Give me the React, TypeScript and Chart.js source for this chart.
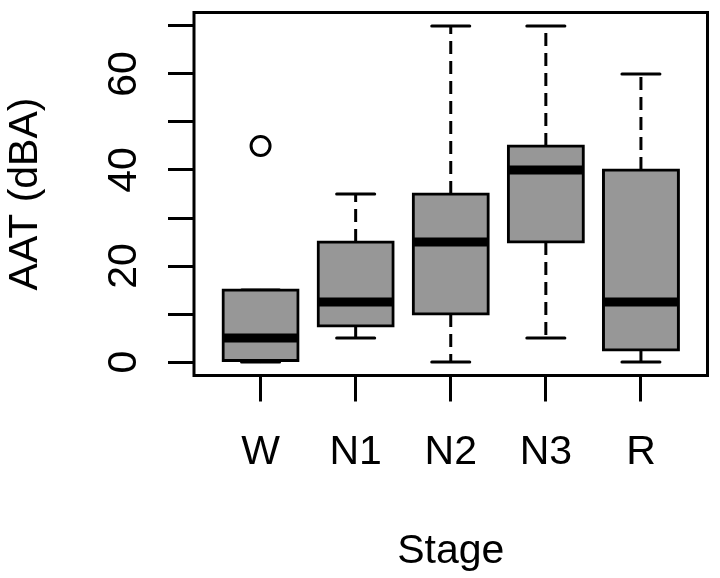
import { useEffect, useRef } from 'react';
import { Chart, registerables } from 'chart.js';

Chart.register(...registerables);

// ---- data ----
const stages = ['W', 'N1', 'N2', 'N3', 'R'];
const whiskerLow = [0, 5, 0, 5, 0];
const quartile1 = [0, 7.5, 10, 25, 2.5];
const medians = [5, 12.5, 25, 40, 12.5];
const quartile3 = [15, 25, 35, 45, 40];
const whiskerHigh = [15, 35, 70, 70, 60];
const outlierStageIndex = [0];
const outlierValues = [45];
const yTickValues = [0, 10, 20, 30, 40, 50, 60, 70];
const yLabelValues = [0, 20, 40, 60];

const FONT = '"Liberation Sans", Arial, Helvetica, sans-serif';
const FONT_SIZE = 41;
const BOX_FILL = '#979797';

const framePlugin = {
  id: 'frame',
  afterDraw(chart: any) {
    const { ctx, chartArea } = chart;
    const { left, top, right, bottom } = chartArea;
    ctx.save();
    ctx.strokeStyle = '#000';
    ctx.lineWidth = 3;
    ctx.strokeRect(left, top, right - left, bottom - top);
    ctx.restore();
  },
};

function lineDs(data: any[], width: number, cap: string, dash: number[], order: number) {
  return {
    type: 'line',
    data,
    borderColor: '#000',
    borderWidth: width,
    borderCapStyle: cap,
    borderDash: dash,
    pointRadius: 0,
    pointHoverRadius: 0,
    pointHitRadius: 0,
    fill: false,
    tension: 0,
    order,
  };
}

function buildDatasets() {
  const ds: any[] = [];
  ds.push({
    type: 'bar',
    data: stages.map((_, i) => ({ x: i + 1, y: [quartile1[i], quartile3[i]] })),
    backgroundColor: BOX_FILL,
    borderColor: '#000',
    borderWidth: 3,
    inflateAmount: 1.5,
    borderSkipped: false,
    barThickness: 75,
    order: 2,
  });
  stages.forEach((_, i) => {
    const x = i + 1;
    ds.push(lineDs([{ x, y: quartile3[i] }, { x, y: whiskerHigh[i] }], 3, 'butt', [13, 7], 3));
    ds.push(lineDs([{ x, y: quartile1[i] }, { x, y: whiskerLow[i] }], 3, 'butt', [13, 7], 3));
    ds.push(lineDs([{ x: x - 0.2, y: whiskerHigh[i] }, { x: x + 0.2, y: whiskerHigh[i] }], 3, 'round', [], 3));
    ds.push(lineDs([{ x: x - 0.2, y: whiskerLow[i] }, { x: x + 0.2, y: whiskerLow[i] }], 3, 'round', [], 3));
    ds.push(lineDs([{ x: x - 0.4, y: medians[i] }, { x: x + 0.4, y: medians[i] }], 9, 'butt', [], 0));
  });
  ds.push({
    type: 'scatter',
    data: outlierStageIndex.map((s, k) => ({ x: s + 1, y: outlierValues[k] })),
    pointStyle: 'circle',
    pointRadius: 9.5,
    pointHoverRadius: 9.5,
    pointBorderWidth: 3,
    borderWidth: 3,
    borderColor: '#000',
    backgroundColor: 'rgba(0,0,0,0)',
    order: 1,
  });
  return ds;
}

export default function App() {
  const ref = useRef<HTMLCanvasElement>(null);
  useEffect(() => {
    if (!ref.current) return;
    const chart = new Chart(ref.current, {
      type: 'bar',
      data: { datasets: buildDatasets() },
      options: {
        animation: false,
        responsive: false,
        devicePixelRatio: 1,
        events: [],
        layout: { padding: { left: 0, top: 5.7, right: 7.3, bottom: 0 } },
        plugins: { legend: { display: false }, tooltip: { enabled: false } },
        scales: {
          x: {
            type: 'linear',
            min: 0.3,
            max: 5.7,
            offset: false,
            afterBuildTicks: (s: any) => {
              s.ticks = stages.map((_, i) => ({ value: i + 1 }));
            },
            afterFit: (s: any) => {
              s.height = 202.5;
              s.paddingLeft = 0;
              s.paddingRight = 0;
            },
            ticks: {
              autoSkip: false,
              maxRotation: 0,
              minRotation: 0,
              padding: 26.2,
              color: '#000',
              font: { family: FONT, size: FONT_SIZE },
              callback: (v: any) => stages[Math.round(Number(v)) - 1] ?? '',
            },
            grid: {
              offset: false,
              drawOnChartArea: false,
              drawTicks: true,
              tickLength: 26,
              color: '#000',
              lineWidth: 3,
            },
            border: { display: false },
            title: {
              display: true,
              text: 'Stage',
              color: '#000',
              font: { family: FONT, size: FONT_SIZE },
              padding: { top: 0, bottom: 2.1 },
            },
          },
          y: {
            type: 'linear',
            min: -2.8,
            max: 72.8,
            afterBuildTicks: (s: any) => {
              s.ticks = yTickValues.map((v) => ({ value: v }));
            },
            afterFit: (s: any) => {
              s.width = 194;
              s.paddingTop = 0;
              s.paddingBottom = 0;
            },
            ticks: {
              autoSkip: false,
              minRotation: 90,
              maxRotation: 90,
              crossAlign: 'center',
              padding: 20.9,
              color: '#000',
              font: { family: FONT, size: FONT_SIZE },
              callback: (v: any) => (yLabelValues.includes(Number(v)) ? String(v) : ''),
            },
            grid: { drawOnChartArea: false, drawTicks: true, tickLength: 26, color: '#000', lineWidth: 3 },
            border: { display: false },
            title: {
              display: true,
              text: 'AAT (dBA)',
              color: '#000',
              font: { family: FONT, size: FONT_SIZE },
              padding: { top: 0.7, bottom: 0 },
            },
          },
        },
      } as any,
      plugins: [framePlugin],
    });
    return () => chart.destroy();
  }, []);
  return (
    <div style={{ position: 'absolute', left: 0, top: 0, width: 720, height: 578, background: '#fff' }}>
      <canvas ref={ref} width={720} height={578} style={{ display: 'block' }} />
    </div>
  );
}
